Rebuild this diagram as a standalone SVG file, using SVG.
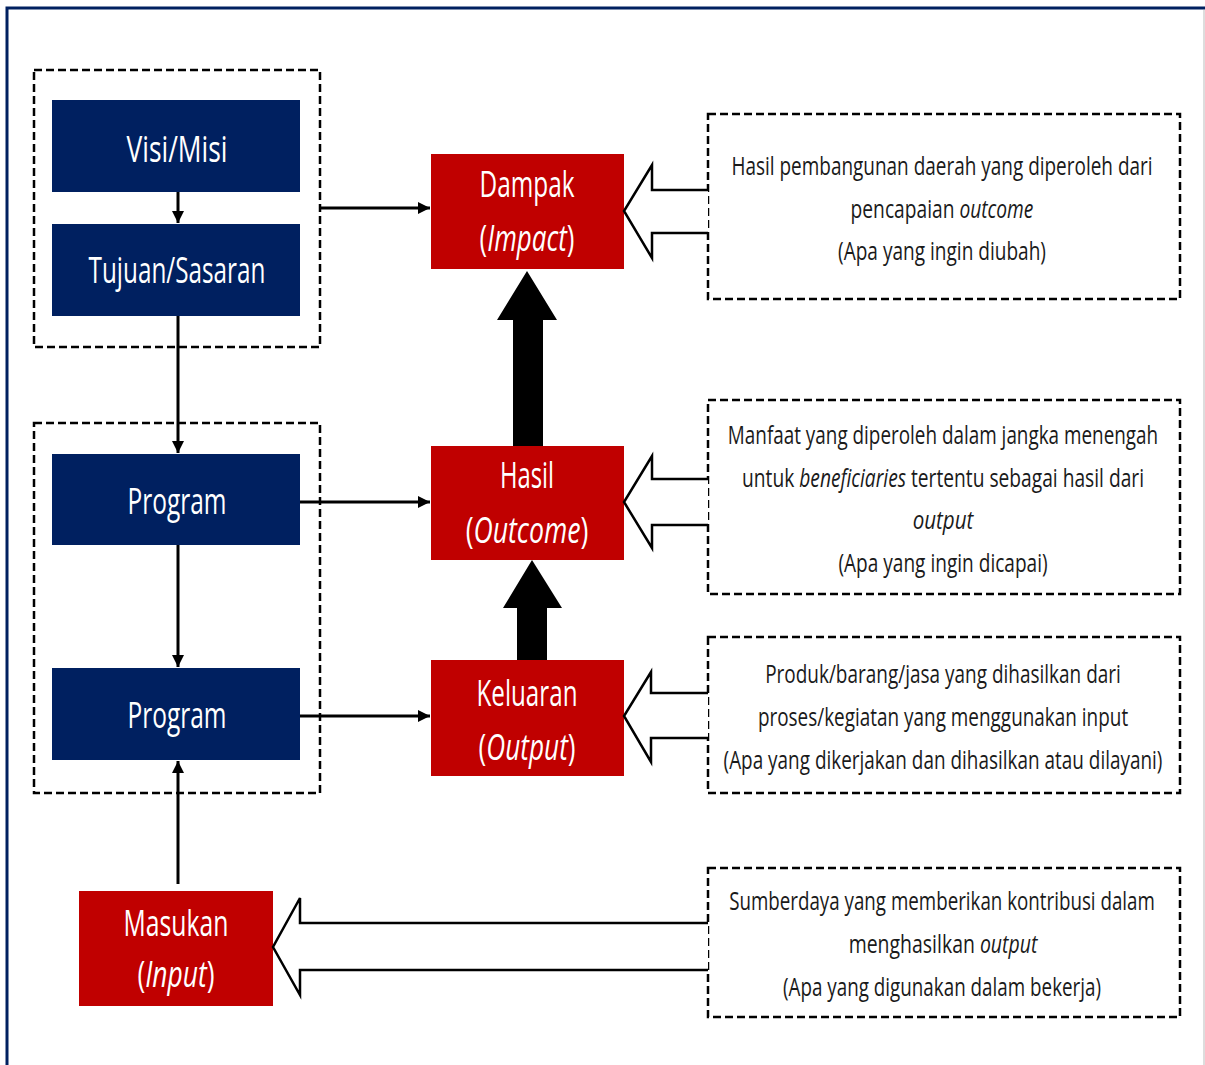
<svg xmlns="http://www.w3.org/2000/svg" width="1205" height="1065" viewBox="0 0 1205 1065">
<style>
.blue{fill:#002060}
.red{fill:#C00000}
.dash{fill:none;stroke:#000;stroke-width:2.5;stroke-dasharray:8 4}
.wt{fill:#fff;font-family:"Open Sans","Liberation Sans",sans-serif;font-size:36px;text-anchor:middle}
.dt{fill:#1a1a1a;font-family:"Open Sans","Liberation Sans",sans-serif;font-size:26px;text-anchor:middle}
.it{font-style:italic}
.ln{stroke:#000;stroke-width:3;fill:none}
.hol{fill:#fff;stroke:#000;stroke-width:2.5;stroke-linejoin:miter}
</style>
<defs>
<marker id="ah" viewBox="0 0 10 10" refX="10" refY="5" markerWidth="4" markerHeight="4" markerUnits="strokeWidth" orient="auto">
<path d="M0,0 L10,5 L0,10 z" fill="#000"/>
</marker>
</defs>
<rect x="0" y="0" width="1205" height="1065" fill="#fff"/>
<path d="M7,1065 V8 H1205" fill="none" stroke="#002060" stroke-width="3"/>
<line x1="1204" y1="10" x2="1204" y2="1065" stroke="#ddd" stroke-width="2"/>

<g id="group1"><rect class="dash" x="34" y="70" width="286" height="277"/></g>
<g id="group2"><rect class="dash" x="34" y="423" width="286" height="370"/></g>

<g id="visi"><rect class="blue" x="52" y="100" width="248" height="92"/><text class="wt" transform="translate(177,162) scale(0.66,1)" textLength="153" lengthAdjust="spacingAndGlyphs">Visi/Misi</text></g>
<g id="tujuan"><rect class="blue" x="52" y="224" width="248" height="92"/><text class="wt" transform="translate(177,283) scale(0.66,1)" textLength="268" lengthAdjust="spacingAndGlyphs">Tujuan/Sasaran</text></g>
<g id="program1"><rect class="blue" x="52" y="454" width="248" height="91"/><text class="wt" transform="translate(177,514) scale(0.66,1)" textLength="150" lengthAdjust="spacingAndGlyphs">Program</text></g>
<g id="program2"><rect class="blue" x="52" y="668" width="248" height="92"/><text class="wt" transform="translate(177,728) scale(0.66,1)" textLength="150" lengthAdjust="spacingAndGlyphs">Program</text></g>

<g id="dampak"><rect class="red" x="431" y="154" width="193" height="115"/>
<text class="wt" transform="translate(527,197) scale(0.66,1)" textLength="144" lengthAdjust="spacingAndGlyphs">Dampak</text>
<text class="wt" transform="translate(527,251) scale(0.66,1)" textLength="144" lengthAdjust="spacingAndGlyphs">(<tspan class="it">Impact</tspan>)</text></g>
<g id="hasil"><rect class="red" x="431" y="446" width="193" height="114"/>
<text class="wt" transform="translate(527,488) scale(0.66,1)" textLength="82" lengthAdjust="spacingAndGlyphs">Hasil</text>
<text class="wt" transform="translate(527,543) scale(0.66,1)" textLength="186" lengthAdjust="spacingAndGlyphs">(<tspan class="it">Outcome</tspan>)</text></g>
<g id="keluaran"><rect class="red" x="431" y="660" width="193" height="116"/>
<text class="wt" transform="translate(527,706) scale(0.66,1)" textLength="153" lengthAdjust="spacingAndGlyphs">Keluaran</text>
<text class="wt" transform="translate(527,760) scale(0.66,1)" textLength="147" lengthAdjust="spacingAndGlyphs">(<tspan class="it">Output</tspan>)</text></g>
<g id="masukan"><rect class="red" x="79" y="891" width="194" height="115"/>
<text class="wt" transform="translate(176,936) scale(0.66,1)" textLength="159" lengthAdjust="spacingAndGlyphs">Masukan</text>
<text class="wt" transform="translate(176,987) scale(0.66,1)" textLength="117" lengthAdjust="spacingAndGlyphs">(<tspan class="it">Input</tspan>)</text></g>

<g id="desc-impact"><rect class="dash" x="708" y="114" width="472" height="185"/>
<text class="dt" transform="translate(942,175) scale(0.66,1)" textLength="638" lengthAdjust="spacingAndGlyphs">Hasil pembangunan daerah yang diperoleh  dari</text>
<text class="dt" transform="translate(942,218) scale(0.66,1)" textLength="277" lengthAdjust="spacingAndGlyphs">pencapaian <tspan class="it">outcome</tspan></text>
<text class="dt" transform="translate(942,260) scale(0.66,1)" textLength="315" lengthAdjust="spacingAndGlyphs">(Apa yang ingin diubah)</text></g>

<g id="desc-outcome"><rect class="dash" x="708" y="400" width="472" height="194"/>
<text class="dt" transform="translate(943,444) scale(0.66,1)" textLength="652" lengthAdjust="spacingAndGlyphs">Manfaat yang diperoleh dalam jangka menengah</text>
<text class="dt" transform="translate(943,487) scale(0.66,1)" textLength="609" lengthAdjust="spacingAndGlyphs">untuk <tspan class="it">beneficiaries</tspan> tertentu sebagai hasil dari</text>
<text class="dt it" transform="translate(943,529) scale(0.66,1)" textLength="92" lengthAdjust="spacingAndGlyphs">output</text>
<text class="dt" transform="translate(943,572) scale(0.66,1)" textLength="317" lengthAdjust="spacingAndGlyphs">(Apa yang ingin dicapai)</text></g>

<g id="desc-output"><rect class="dash" x="708" y="637" width="472" height="156"/>
<text class="dt" transform="translate(943,683) scale(0.66,1)" textLength="539" lengthAdjust="spacingAndGlyphs">Produk/barang/jasa yang dihasilkan dari</text>
<text class="dt" transform="translate(943,726) scale(0.66,1)" textLength="561" lengthAdjust="spacingAndGlyphs">proses/kegiatan yang menggunakan input</text>
<text class="dt" transform="translate(943,769) scale(0.66,1)" textLength="665" lengthAdjust="spacingAndGlyphs">(Apa yang dikerjakan dan dihasilkan atau dilayani)</text></g>

<g id="desc-input"><rect class="dash" x="708" y="868" width="472" height="149"/>
<text class="dt" transform="translate(942,910) scale(0.66,1)" textLength="645" lengthAdjust="spacingAndGlyphs">Sumberdaya yang memberikan kontribusi dalam</text>
<text class="dt" transform="translate(943,953) scale(0.66,1)" textLength="286" lengthAdjust="spacingAndGlyphs">menghasilkan <tspan class="it">output</tspan></text>
<text class="dt" transform="translate(942,996) scale(0.66,1)" textLength="482" lengthAdjust="spacingAndGlyphs">(Apa yang digunakan dalam bekerja)</text></g>

<g id="connectors">
<line class="ln" x1="178" y1="192" x2="178" y2="223" marker-end="url(#ah)"/>
<line class="ln" x1="178" y1="316" x2="178" y2="453" marker-end="url(#ah)"/>
<line class="ln" x1="178" y1="545" x2="178" y2="667" marker-end="url(#ah)"/>
<line class="ln" x1="178" y1="884" x2="178" y2="761" marker-end="url(#ah)"/>
<line class="ln" x1="320" y1="208" x2="430" y2="208" stroke-width="3.5" marker-end="url(#ah)"/>
<line class="ln" x1="300" y1="502" x2="430" y2="502" stroke-width="3.5" marker-end="url(#ah)"/>
<line class="ln" x1="300" y1="716" x2="430" y2="716" stroke-width="3.5" marker-end="url(#ah)"/>
<path d="M513,446 V320 H497 L527,271 L557,320 H543 V446 Z" fill="#000"/>
<path d="M517,660 V608 H503 L532,560 L562,608 H547 V660 Z" fill="#000"/>
<path class="hol" d="M708,190 H652 V165 L624,211 L652,258 V233 H708"/>
<path class="hol" d="M708,479 H652 V456 L624,502 L652,548 V525 H708"/>
<path class="hol" d="M708,693 H651 V672 L624,716 L651,762 V738 H708"/>
<path class="hol" d="M708,923 H300 V898 L273,947 L300,995 V970 H708"/>
</g>
</svg>
